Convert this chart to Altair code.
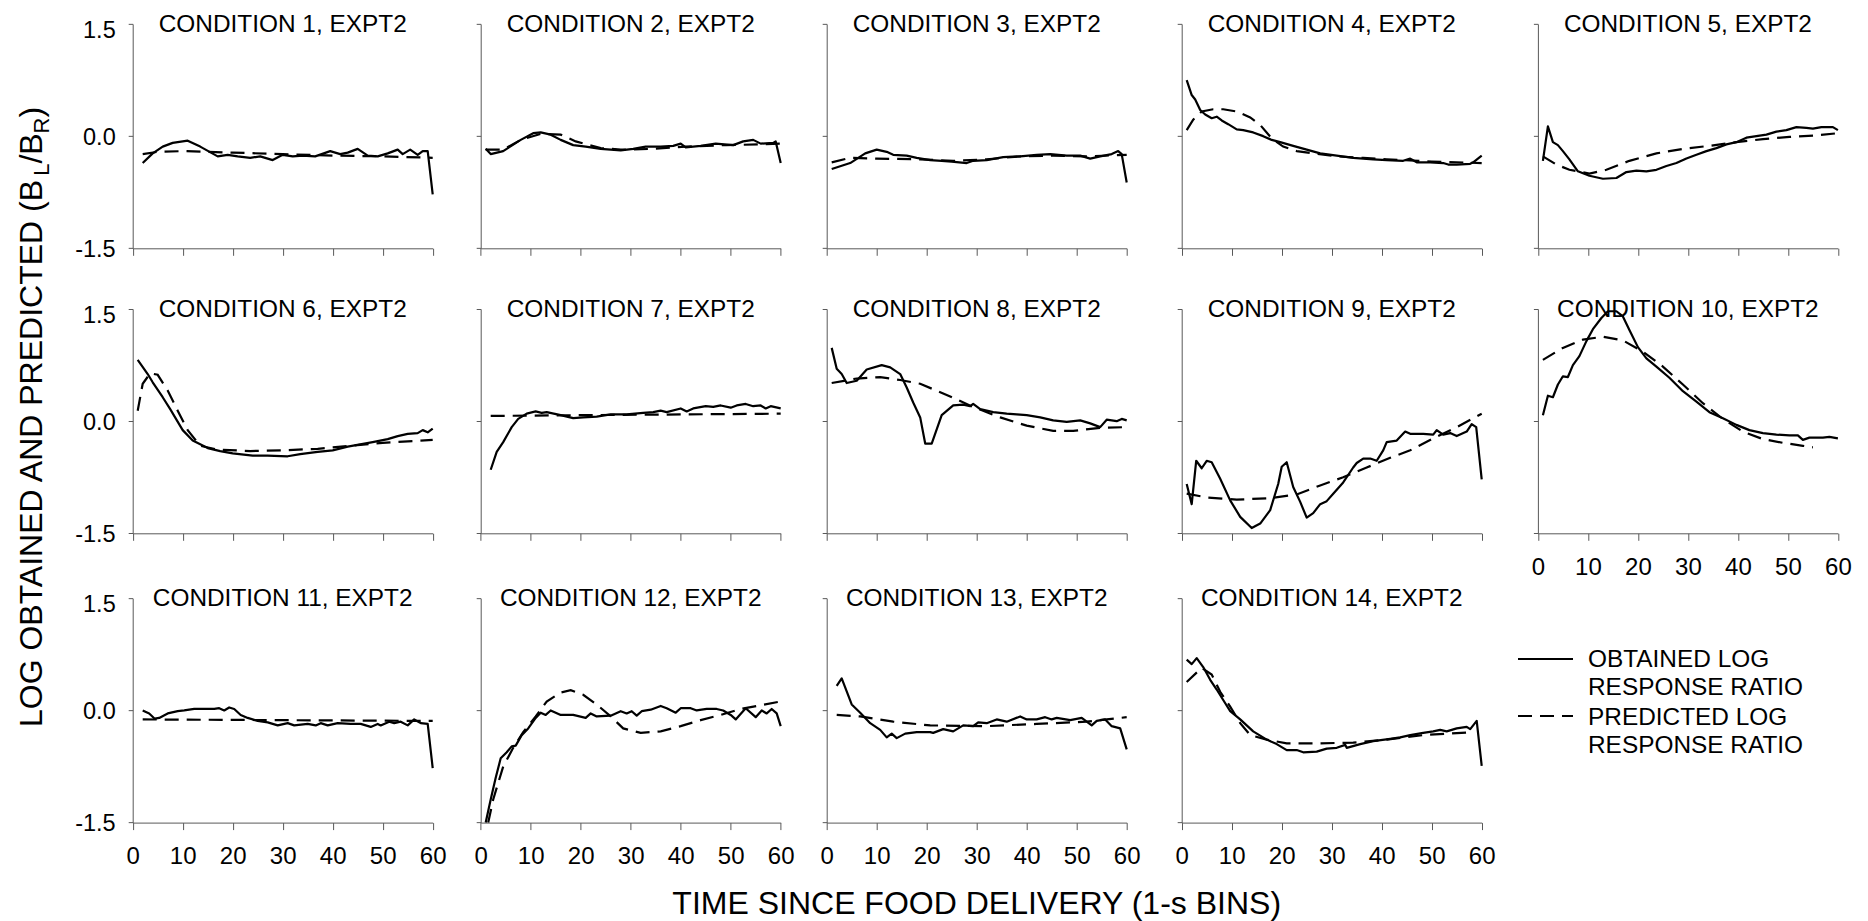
import altair as alt
import pandas as pd

FONT = "Liberation Sans"
INK = "black"
AXIS_INK = "#595959"

# ---------------- obtained and predicted log response ratios ----------------
c1_obt_t = [2, 4, 6, 8, 11, 13.5, 17, 19, 21, 23.5, 25.5, 28, 30, 32, 34, 36.5, 39.5, 41.5, 43, 45, 47, 49, 51, 53, 54, 55.5, 57, 58, 59, 60]
c1_obt_v = [-0.36, -0.23, -0.14, -0.09, -0.06, -0.14, -0.27, -0.25, -0.27, -0.29, -0.27, -0.32, -0.25, -0.27, -0.26, -0.27, -0.20, -0.24, -0.22, -0.17, -0.26, -0.27, -0.23, -0.18, -0.24, -0.18, -0.25, -0.20, -0.20, -0.78]
c1_pred_t = [2, 5, 10, 20, 30, 40, 50, 60]
c1_pred_v = [-0.24, -0.21, -0.20, -0.22, -0.24, -0.26, -0.27, -0.29]

c2_obt_t = [1, 2, 4.5, 8, 10.5, 12, 14, 16, 18.5, 21, 24, 28, 30.5, 33, 36, 38.5, 40, 41, 44, 47, 50.5, 52.5, 54.5, 56, 58.5, 59, 60]
c2_obt_v = [-0.17, -0.24, -0.20, -0.05, 0.04, 0.05, 0.02, -0.05, -0.12, -0.14, -0.17, -0.19, -0.17, -0.14, -0.14, -0.13, -0.10, -0.15, -0.13, -0.10, -0.12, -0.07, -0.05, -0.10, -0.09, -0.07, -0.36]
c2_pred_t = [1, 4.5, 8, 12, 16, 19, 24, 28, 34.5, 41, 49, 56, 60]
c2_pred_v = [-0.18, -0.18, -0.05, 0.03, 0.02, -0.07, -0.16, -0.18, -0.17, -0.14, -0.12, -0.11, -0.10]

c3_obt_t = [1, 4.7, 7.7, 10, 12, 13.3, 16, 18, 20.7, 23, 25, 28, 29.3, 32, 35.3, 38.7, 42, 44.7, 48, 50.7, 52.7, 54.7, 57, 58.3, 59, 60]
c3_obt_v = [-0.44, -0.36, -0.23, -0.18, -0.21, -0.25, -0.26, -0.29, -0.32, -0.33, -0.34, -0.36, -0.33, -0.32, -0.28, -0.27, -0.25, -0.24, -0.26, -0.26, -0.30, -0.27, -0.24, -0.20, -0.24, -0.62]
c3_pred_t = [1, 4.7, 10, 18.7, 25.3, 32, 38.7, 45.3, 52, 60]
c3_pred_v = [-0.35, -0.29, -0.30, -0.31, -0.33, -0.31, -0.27, -0.26, -0.27, -0.25]

c4_obt_t = [1, 2, 2.7, 3.7, 4.7, 6, 7, 8, 9.3, 11, 12.3, 14.3, 16.3, 18, 19.7, 22.3, 25, 27.7, 31, 34.3, 38.3, 41, 44.3, 45.7, 47, 49.7, 52.3, 53.3, 55, 57.7, 58.3, 60]
c4_obt_v = [0.75, 0.55, 0.49, 0.35, 0.29, 0.24, 0.26, 0.21, 0.16, 0.09, 0.08, 0.05, 0.0, -0.05, -0.08, -0.13, -0.18, -0.23, -0.26, -0.29, -0.31, -0.32, -0.33, -0.30, -0.35, -0.35, -0.36, -0.38, -0.38, -0.37, -0.35, -0.26]
c4_pred_t = [1, 2.3, 4, 6.3, 8.3, 11, 13.7, 15.7, 18, 20.3, 23, 26.3, 31, 36.3, 41, 50, 60]
c4_pred_v = [0.08, 0.22, 0.33, 0.36, 0.36, 0.33, 0.25, 0.15, -0.03, -0.14, -0.20, -0.23, -0.27, -0.29, -0.31, -0.34, -0.36]

c5_obt_t = [1, 2, 3, 4, 5, 6.3, 8, 10.3, 13, 15.7, 17.7, 19.7, 21.7, 23.7, 25.7, 27.7, 29.7, 31.7, 33.7, 35.7, 37.7, 39.7, 41.7, 43.7, 45.7, 47.7, 49.7, 51.7, 53.7, 55, 56.7, 59, 60]
c5_obt_v = [-0.33, 0.13, -0.08, -0.12, -0.20, -0.31, -0.47, -0.53, -0.57, -0.56, -0.48, -0.46, -0.47, -0.45, -0.40, -0.36, -0.30, -0.25, -0.20, -0.16, -0.11, -0.08, -0.02, 0.0, 0.02, 0.06, 0.08, 0.12, 0.11, 0.10, 0.12, 0.12, 0.08]
c5_pred_t = [1, 3.7, 6.3, 10.3, 13.7, 18.3, 23.7, 29, 34.3, 39.7, 45, 50.3, 55.7, 60]
c5_pred_v = [-0.27, -0.38, -0.45, -0.50, -0.45, -0.33, -0.23, -0.17, -0.13, -0.08, -0.04, -0.01, 0.01, 0.04]

c6_obt_t = [1, 3, 4, 6, 7.5, 10, 12, 15, 17.5, 20, 24, 27, 31, 33.5, 37, 40, 43, 45.5, 48, 51, 53, 55, 57, 58, 59, 60]
c6_obt_v = [0.82, 0.63, 0.52, 0.32, 0.16, -0.12, -0.26, -0.36, -0.40, -0.43, -0.46, -0.46, -0.47, -0.44, -0.41, -0.39, -0.34, -0.31, -0.28, -0.24, -0.20, -0.17, -0.16, -0.12, -0.15, -0.10]
c6_pred_t = [1, 2, 3.5, 5, 7, 9, 11, 13.5, 17, 23.5, 30, 37, 43.5, 50, 60]
c6_pred_v = [0.14, 0.50, 0.64, 0.62, 0.41, 0.14, -0.12, -0.33, -0.38, -0.40, -0.39, -0.37, -0.33, -0.29, -0.25]

c7_obt_t = [2, 3.2, 4.5, 6.2, 7.5, 9.2, 11, 12.2, 13.2, 16, 18.5, 20.5, 23.2, 26, 29.2, 32.5, 34.5, 36, 37.2, 40, 41.2, 42.5, 45, 46.5, 48, 50, 51.2, 53, 54.5, 56, 57, 58, 60]
c7_obt_v = [-0.65, -0.41, -0.28, -0.08, 0.03, 0.10, 0.13, 0.11, 0.12, 0.08, 0.04, 0.05, 0.06, 0.09, 0.09, 0.11, 0.12, 0.14, 0.12, 0.17, 0.13, 0.17, 0.20, 0.19, 0.21, 0.18, 0.21, 0.23, 0.20, 0.21, 0.17, 0.20, 0.17]
c7_pred_t = [2, 20, 40, 60]
c7_pred_v = [0.07, 0.08, 0.09, 0.10]

c8_obt_t = [1, 2, 3, 4, 6, 8, 11, 12.7, 14.7, 16, 17.3, 18.7, 19.7, 21, 23, 25.3, 27.3, 28.7, 29.3, 30.7, 33.3, 36, 38, 40, 42.7, 45.3, 48, 50.7, 52.7, 54.7, 56, 58, 59, 60]
c8_obt_v = [0.98, 0.70, 0.63, 0.51, 0.54, 0.69, 0.75, 0.72, 0.63, 0.45, 0.25, 0.05, -0.30, -0.30, 0.08, 0.21, 0.22, 0.20, 0.23, 0.16, 0.12, 0.10, 0.09, 0.08, 0.05, 0.01, -0.01, 0.01, -0.03, -0.08, 0.02, 0.0, 0.03, 0.01]
c8_pred_t = [1, 6, 10.7, 14.7, 18.7, 24, 29.3, 34.7, 40, 45.3, 49.3, 54.7, 60]
c8_pred_v = [0.51, 0.57, 0.59, 0.55, 0.50, 0.35, 0.19, 0.05, -0.06, -0.13, -0.13, -0.09, -0.08]

c9_obt_t = [1, 2, 2.9, 4, 5, 6, 7.7, 9.7, 11.7, 14, 15.7, 17.7, 19.3, 20, 21, 22.3, 23.7, 25, 26.3, 27.7, 29, 30.3, 32.3, 34.3, 35, 36.3, 37.7, 39, 40.3, 41, 43, 44.7, 45.7, 48.3, 50.3, 51, 52.3, 53.7, 55, 57, 58, 58.9, 60]
c9_obt_v = [-0.84, -1.11, -0.53, -0.63, -0.53, -0.55, -0.77, -1.06, -1.28, -1.43, -1.37, -1.19, -0.84, -0.61, -0.55, -0.88, -1.08, -1.29, -1.23, -1.11, -1.07, -0.97, -0.82, -0.62, -0.56, -0.50, -0.50, -0.53, -0.39, -0.28, -0.26, -0.14, -0.17, -0.17, -0.18, -0.12, -0.18, -0.16, -0.20, -0.14, -0.04, -0.08, -0.78]
c9_pred_t = [1, 5, 11, 17.7, 23, 27.7, 32.3, 37, 41.7, 45.7, 50.3, 55, 60]
c9_pred_v = [-0.97, -1.02, -1.05, -1.03, -0.98, -0.86, -0.75, -0.62, -0.49, -0.39, -0.23, -0.08, 0.10]

c10_obt_t = [1, 2, 3, 4, 5, 6, 7, 8.3, 9.7, 11, 12.7, 14, 15.7, 17, 18.3, 20, 21.7, 23.7, 26.3, 29, 31.7, 34.3, 37, 39.7, 42.3, 45, 47.7, 50.3, 52, 53, 54.3, 57, 58.3, 60]
c10_obt_v = [0.08, 0.34, 0.32, 0.49, 0.60, 0.59, 0.75, 0.87, 1.07, 1.23, 1.38, 1.47, 1.47, 1.40, 1.22, 0.99, 0.84, 0.73, 0.58, 0.40, 0.26, 0.12, 0.04, -0.05, -0.12, -0.16, -0.18, -0.19, -0.19, -0.25, -0.22, -0.22, -0.21, -0.23]
c10_pred_t = [1, 5, 9, 13, 17, 21, 25, 29, 33, 37, 41, 45, 49, 53, 55]
c10_pred_v = [0.82, 0.98, 1.09, 1.13, 1.08, 0.93, 0.73, 0.49, 0.24, 0.03, -0.14, -0.24, -0.29, -0.33, -0.35]

c11_obt_t = [2, 3.3, 4.4, 5.3, 7, 9, 10.3, 12.3, 14.3, 16.3, 17.3, 18.3, 19.3, 20.3, 21.6, 23, 25, 27, 29, 31, 32.3, 35, 36.6, 37.6, 39, 41, 43.6, 45.6, 47.6, 49, 49.6, 51.3, 52.3, 53.6, 55, 56.3, 57.6, 59, 60]
c11_obt_v = [0.0, -0.04, -0.11, -0.10, -0.04, -0.01, 0.0, 0.02, 0.02, 0.02, 0.03, 0.0, 0.04, 0.02, -0.06, -0.10, -0.14, -0.16, -0.20, -0.17, -0.20, -0.18, -0.20, -0.17, -0.20, -0.17, -0.18, -0.18, -0.22, -0.18, -0.20, -0.15, -0.17, -0.15, -0.20, -0.12, -0.17, -0.18, -0.77]
c11_pred_t = [2, 30, 60]
c11_pred_v = [-0.12, -0.13, -0.14]

c12_obt_t = [1, 2, 3, 4, 5.2, 6.2, 7, 8.2, 9.5, 11, 12, 13, 14, 16, 18.5, 21, 22, 23.2, 26, 28, 29.2, 30.2, 31.2, 32.2, 34, 36, 37.2, 39, 40, 42, 43.2, 45.2, 47.2, 48.5, 50, 51, 53, 55, 56.2, 57.2, 58.2, 59.2, 60]
c12_obt_v = [-1.50, -1.19, -0.90, -0.64, -0.56, -0.48, -0.47, -0.33, -0.24, -0.10, -0.03, -0.06, 0.0, -0.06, -0.06, -0.10, -0.04, -0.08, -0.07, -0.01, -0.04, -0.01, -0.07, -0.01, 0.01, 0.06, 0.03, -0.03, 0.03, 0.03, 0.0, 0.02, 0.02, 0.0, -0.06, -0.12, 0.03, -0.09, 0.0, -0.04, 0.02, -0.04, -0.21]
c12_pred_t = [1.5, 2.5, 4.5, 6.5, 8.5, 11, 13.2, 16, 18, 20.5, 23.2, 26, 28.5, 32, 36, 40, 44, 48, 52, 56, 60]
c12_pred_v = [-1.50, -1.19, -0.75, -0.50, -0.29, -0.08, 0.12, 0.24, 0.27, 0.21, 0.08, -0.08, -0.24, -0.30, -0.28, -0.21, -0.13, -0.06, 0.02, 0.07, 0.12]

c13_obt_t = [2, 3, 5, 6.7, 8.7, 10.7, 12, 13, 14, 15.7, 18, 20.7, 21.3, 23.3, 25.3, 27.3, 29.3, 30.3, 32, 34, 36, 38.7, 40, 42, 43.7, 45, 46, 48.7, 51, 53, 54, 55.7, 57, 58.7, 60]
c13_obt_v = [0.33, 0.43, 0.08, -0.03, -0.17, -0.26, -0.36, -0.31, -0.37, -0.31, -0.29, -0.29, -0.30, -0.25, -0.28, -0.20, -0.21, -0.16, -0.17, -0.12, -0.15, -0.08, -0.12, -0.12, -0.09, -0.12, -0.10, -0.13, -0.10, -0.20, -0.14, -0.12, -0.21, -0.24, -0.52]
c13_pred_t = [2, 6.7, 13.3, 20.7, 32, 42, 52, 60]
c13_pred_v = [-0.06, -0.08, -0.15, -0.20, -0.21, -0.18, -0.15, -0.09]

c14_obt_t = [1, 2, 3, 4.3, 5.7, 7, 8.3, 9.7, 11.7, 14.3, 17, 19, 21, 23, 24.3, 27, 29, 31, 32.7, 33, 35.7, 38.3, 41.7, 43.7, 45.7, 48.3, 50.3, 51.7, 53, 55, 57, 57.7, 59, 60]
c14_obt_v = [0.68, 0.62, 0.70, 0.58, 0.41, 0.28, 0.14, -0.01, -0.12, -0.28, -0.39, -0.45, -0.53, -0.53, -0.56, -0.55, -0.51, -0.50, -0.46, -0.50, -0.45, -0.41, -0.38, -0.36, -0.33, -0.30, -0.28, -0.26, -0.28, -0.24, -0.22, -0.25, -0.14, -0.74]
c14_pred_t = [1, 4, 6, 7.7, 9.7, 11.7, 13.7, 17, 21, 27.7, 34.3, 41, 48.3, 58.3]
c14_pred_v = [0.38, 0.57, 0.48, 0.25, 0.05, -0.17, -0.33, -0.39, -0.44, -0.44, -0.43, -0.39, -0.33, -0.29]

conditions = [
    (c1_obt_t, c1_obt_v, c1_pred_t, c1_pred_v),
    (c2_obt_t, c2_obt_v, c2_pred_t, c2_pred_v),
    (c3_obt_t, c3_obt_v, c3_pred_t, c3_pred_v),
    (c4_obt_t, c4_obt_v, c4_pred_t, c4_pred_v),
    (c5_obt_t, c5_obt_v, c5_pred_t, c5_pred_v),
    (c6_obt_t, c6_obt_v, c6_pred_t, c6_pred_v),
    (c7_obt_t, c7_obt_v, c7_pred_t, c7_pred_v),
    (c8_obt_t, c8_obt_v, c8_pred_t, c8_pred_v),
    (c9_obt_t, c9_obt_v, c9_pred_t, c9_pred_v),
    (c10_obt_t, c10_obt_v, c10_pred_t, c10_pred_v),
    (c11_obt_t, c11_obt_v, c11_pred_t, c11_pred_v),
    (c12_obt_t, c12_obt_v, c12_pred_t, c12_pred_v),
    (c13_obt_t, c13_obt_v, c13_pred_t, c13_pred_v),
    (c14_obt_t, c14_obt_v, c14_pred_t, c14_pred_v),
]

panel_titles = [f"CONDITION {k}, EXPT2" for k in range(1, 15)]
x_ticks = [0, 10, 20, 30, 40, 50, 60]
y_ticks = [-1.5, 0.0, 1.5]
legend_lines = ["OBTAINED LOG\nRESPONSE RATIO", "PREDICTED LOG\nRESPONSE RATIO"]
x_title = "TIME SINCE FOOD DELIVERY (1-s BINS)"
y_title_parts = ["LOG OBTAINED AND PREDICTED (B", "L", "/B", "R", ")"]

# ---------------- layout (pixels) ----------------
PW, PH = 300, 224.3          # plot rectangle
CW, CH = 310, 227            # grid cell
COL_SHIFT = [8.6, 5.3, 0.0, 3.7, 8.6]
ROW_SHIFT = [2.15, 0.0, 2.15]
COL_GAP, ROW_GAP = 41.3, 60.15
LEFT, TOP = 124.1, 21.85
DASH = [14, 8]
LW = 2.2
TITLE_SIZE = 24.4
LEGEND_SIZE = 24.4

one = pd.DataFrame({"k": [0]})


def txt(text, x, y, size, **kw):
    return alt.Chart(one).mark_text(
        text=text, font=FONT, fontSize=size, color=INK, baseline="alphabetic", **kw
    ).encode(x=alt.value(x), y=alt.value(y))


def panel(i):
    row, col = divmod(i, 5)
    dx, dy = COL_SHIFT[col], ROW_SHIFT[row]
    ot, ov, pt, pv = conditions[i]

    xs = alt.Scale(domain=[0, 60], range=[dx, dx + PW], nice=False, zero=False)
    ys = alt.Scale(domain=[-1.5, 1.5], range=[dy + PH, dy], nice=False, zero=False)
    xaxis = alt.Axis(
        values=x_ticks, title=None, grid=False, labels=(row == 2 or i == 9),
        tickSize=7, offset=-(CH - dy - PH), labelFontSize=24, labelPadding=15,
        labelFlush=False, labelOverlap=False,
    )
    yaxis = alt.Axis(
        values=y_ticks, title=None, grid=False, labels=(col == 0),
        tickSize=4.5, offset=-dx, labelFontSize=23.5, labelPadding=13,
        labelFlush=False, labelOverlap=False,
        labelExpr="replace(format(datum.value, '.1f'), '\u2212', '-')",
        labelOffset={"condition": {"test": "datum.value == 1.5", "value": 6}, "value": 1},
    )

    obt = pd.DataFrame({"t": ot, "v": ov})
    pred = pd.DataFrame({"t": pt, "v": pv})
    enc = dict(
        x=alt.X("t:Q", scale=xs, axis=xaxis),
        y=alt.Y("v:Q", scale=ys, axis=yaxis),
    )
    layers = [
        alt.Chart(obt).mark_line(color=INK, strokeWidth=LW, strokeJoin="round").encode(**enc),
        alt.Chart(pred).mark_line(color=INK, strokeWidth=LW, strokeDash=DASH).encode(**enc),
        txt(panel_titles[i], dx + PW / 2, dy + 7.7, TITLE_SIZE, align="center"),
    ]

    if i == 0:
        # rotated y-axis title with subscripts
        xb, xs_ = 42 - LEFT, 49 - LEFT
        ys_pos = [727, 175.8, 163.6, 133.4, 117.5]
        sizes = [32, 22, 32, 22, 32]
        xpos = [xb, xs_, xb, xs_, xb]
        for part, yy, sz, xx in zip(y_title_parts, ys_pos, sizes, xpos):
            layers.append(txt(part, xx, yy - TOP, sz, angle=270, align="left"))

    if i == 12:
        layers.append(txt(x_title, dx + PW / 2, 914 - (TOP + 2 * (CH + ROW_GAP)), 32, align="center"))

    if i == 13:
        ox = LEFT + 3 * (CW + COL_GAP)
        oy = TOP + 2 * (CH + ROW_GAP)
        layers.append(
            alt.Chart(one).mark_rule(color=INK, strokeWidth=LW).encode(
                x=alt.value(1518 - ox), x2=alt.value(1573 - ox), y=alt.value(659 - oy)
            )
        )
        layers.append(
            alt.Chart(one).mark_rule(color=INK, strokeWidth=LW, strokeDash=DASH).encode(
                x=alt.value(1518 - ox), x2=alt.value(1573 - ox), y=alt.value(716 - oy)
            )
        )
        layers.append(txt(legend_lines[0], 1588 - ox, 667 - oy, LEGEND_SIZE, align="left",
                          lineBreak="\n", lineHeight=28))
        layers.append(txt(legend_lines[1], 1588 - ox, 725 - oy, LEGEND_SIZE, align="left",
                          lineBreak="\n", lineHeight=28))

    return alt.layer(*layers).properties(width=CW, height=CH)


chart = (
    alt.concat(
        *[panel(i) for i in range(14)],
        columns=5,
        spacing={"row": ROW_GAP, "column": COL_GAP},
        bounds="flush",
    )
    .properties(
        autosize=alt.AutoSizeParams(type="none"),
        padding={"left": LEFT, "top": TOP, "right": 1868 - LEFT, "bottom": 921 - TOP},
        background="white",
    )
    .configure_view(stroke=None)
    .configure_axis(
        domainColor=AXIS_INK, tickColor=AXIS_INK, domainWidth=1, tickWidth=1,
        labelColor=INK, labelFont=FONT,
    )
)

chart.save("out.html", embed_options={"renderer": "svg", "actions": False})
